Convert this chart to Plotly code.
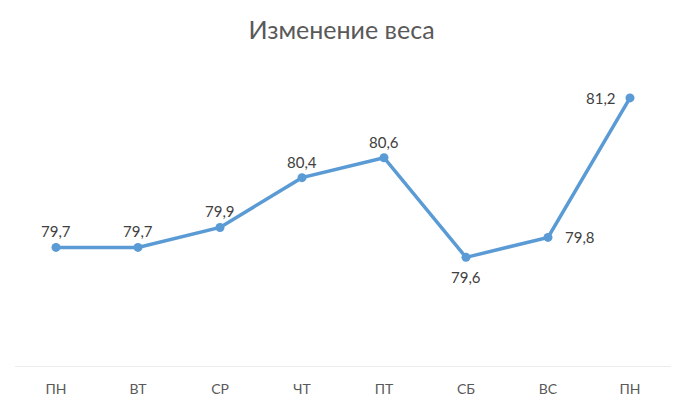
import plotly.graph_objects as go

days = ["ПН", "ВТ", "СР", "ЧТ", "ПТ", "СБ", "ВС", "ПН"]
weight = [79.7, 79.7, 79.9, 80.4, 80.6, 79.6, 79.8, 81.2]
label_side = ["top", "top", "top", "top", "top", "bottom", "right", "left"]

x = list(range(len(days)))
FONT = "Lato, Open Sans, sans-serif"

fig = go.Figure()
fig.add_trace(go.Scatter(
    x=x, y=weight,
    mode="lines+markers",
    line=dict(color="#5B9BD5", width=3.5),
    marker=dict(color="#5B9BD5", size=9),
    hoverinfo="skip",
))

shifts = {"top": (0, 16, "center"), "bottom": (0, -20, "center"),
          "right": (15, 0, "left"), "left": (-12, 0, "right")}
for xi, yi, side in zip(x, weight, label_side):
    dx, dy, anchor = shifts[side]
    fig.add_annotation(
        x=xi, y=yi, xref="x", yref="y",
        text=f"{yi:.1f}".replace(".", ","),
        showarrow=False, xshift=dx, yshift=dy,
        xanchor=anchor, yanchor="middle",
        font=dict(family=FONT, size=15, color="#404040"),
    )

fig.update_layout(
    width=683, height=404,
    margin=dict(l=15, r=12, t=68, b=37),
    paper_bgcolor="white", plot_bgcolor="white",
    showlegend=False,
    title=dict(text="Изменение веса", x=0.5, xanchor="center", y=0.925, yanchor="middle",
               font=dict(family=FONT, size=25, color="#595959")),
    xaxis=dict(
        range=[-0.5, len(days) - 0.5],
        tickmode="array", tickvals=x, ticktext=days,
        showgrid=False, zeroline=False,
        showline=False, ticks="",
        ticklabelstandoff=12,
        automargin=False,
        tickfont=dict(family=FONT, size=14, color="#595959"),
    ),
    yaxis=dict(
        range=[78.5, 81.5],
        visible=False, showgrid=False, zeroline=False,
        automargin=False,
    ),
)
fig.add_shape(type="line", xref="x", yref="y", x0=-0.5, x1=len(days) - 0.5, y0=78.5, y1=78.5,
              line=dict(color="#D9D9D9", width=1), layer="below")

fig.write_html("out.html")
